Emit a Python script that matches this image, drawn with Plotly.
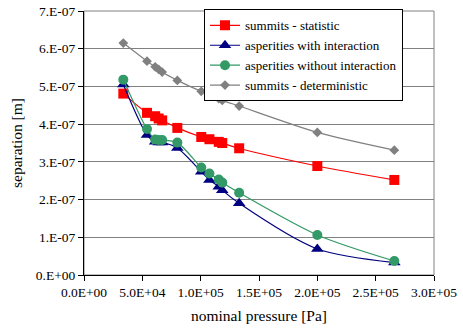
import plotly.graph_objects as go

pressure = [33700, 54000, 61000, 64000, 67000, 80000, 100500, 107500, 115500, 118500, 133000, 200000, 266000]
summits_statistic = [4.81e-7, 4.30e-7, 4.21e-7, 4.15e-7, 4.10e-7, 3.90e-7, 3.66e-7, 3.60e-7, 3.53e-7, 3.50e-7, 3.36e-7, 2.89e-7, 2.52e-7]
asperities_with = [5.05e-7, 3.71e-7, 3.53e-7, 3.51e-7, 3.51e-7, 3.37e-7, 2.74e-7, 2.52e-7, 2.34e-7, 2.25e-7, 1.90e-7, 0.69e-7, 0.33e-7]
asperities_without = [5.18e-7, 3.87e-7, 3.59e-7, 3.58e-7, 3.58e-7, 3.51e-7, 2.85e-7, 2.69e-7, 2.53e-7, 2.45e-7, 2.18e-7, 1.06e-7, 0.37e-7]
summits_deterministic = [6.15e-7, 5.67e-7, 5.52e-7, 5.45e-7, 5.38e-7, 5.16e-7, 4.87e-7, 4.79e-7, 4.68e-7, 4.63e-7, 4.48e-7, 3.78e-7, 3.31e-7]

x_tickvals = [0, 50000, 100000, 150000, 200000, 250000, 300000]
x_ticktext = ["0.0E+00", "5.0E+04", "1.0E+05", "1.5E+05", "2.0E+05", "2.5E+05", "3.0E+05"]
y_tickvals = [0, 1e-7, 2e-7, 3e-7, 4e-7, 5e-7, 6e-7, 7e-7]
y_ticktext = ["0.E+00", "1.E-07", "2.E-07", "3.E-07", "4.E-07", "5.E-07", "6.E-07", "7.E-07"]

FONT = "Liberation Serif"

series = [
    ("summits - statistic", summits_statistic, "#FF0000", "square", 10),
    ("asperities with interaction", asperities_with, "#000080", "triangle-up", 11),
    ("asperities without interaction", asperities_without, "#339966", "circle", 10),
    ("summits - deterministic", summits_deterministic, "#808080", "diamond", 7.5),
]

fig = go.Figure()
for name, ys, color, sym, size in series:
    fig.add_trace(go.Scatter(
        x=pressure, y=ys, name=name, mode="lines+markers",
        line=dict(color=color, width=1.2, shape="spline", smoothing=0.8),
        marker=dict(symbol=sym, size=size, color=color, line=dict(width=0)),
    ))

fig.update_layout(
    width=463, height=330,
    margin=dict(l=84, r=29, t=11, b=55, autoexpand=False),
    paper_bgcolor="white", plot_bgcolor="white",
    font=dict(family=FONT, color="black", size=13.5),
    showlegend=True,
    legend=dict(
        x=(204 - 84) / 350, y=1.006, xanchor="left", yanchor="top",
        bgcolor="white", bordercolor="black", borderwidth=1,
        font=dict(family=FONT, size=13, color="black"),
        tracegroupgap=0, itemwidth=30,
    ),
    shapes=[dict(type="rect", xref="paper", yref="paper", x0=0, x1=1, y0=0, y1=1,
                 line=dict(color="#808080", width=1), layer="below")],
)
fig.update_xaxes(
    range=[0, 300000], tickvals=x_tickvals, ticktext=x_ticktext,
    showgrid=False, zeroline=False, showline=True, linecolor="black", linewidth=1,
    ticks="outside", ticklen=5, tickcolor="black", automargin=False,
    title=dict(text="nominal pressure [Pa]", font=dict(size=15.5), standoff=10),
)
fig.update_yaxes(
    range=[0, 7e-7], tickvals=y_tickvals, ticktext=y_ticktext,
    showgrid=True, gridcolor="#808080", gridwidth=1,
    zeroline=False, showline=True, linecolor="black", linewidth=1,
    ticks="outside", ticklen=5, tickcolor="black", automargin=False,
    title=dict(text="separation [m]", font=dict(size=15.5), standoff=9),
)

fig.write_html("out.html", config={"displayModeBar": False},
               post_script="document.body.style.margin='0px';")
